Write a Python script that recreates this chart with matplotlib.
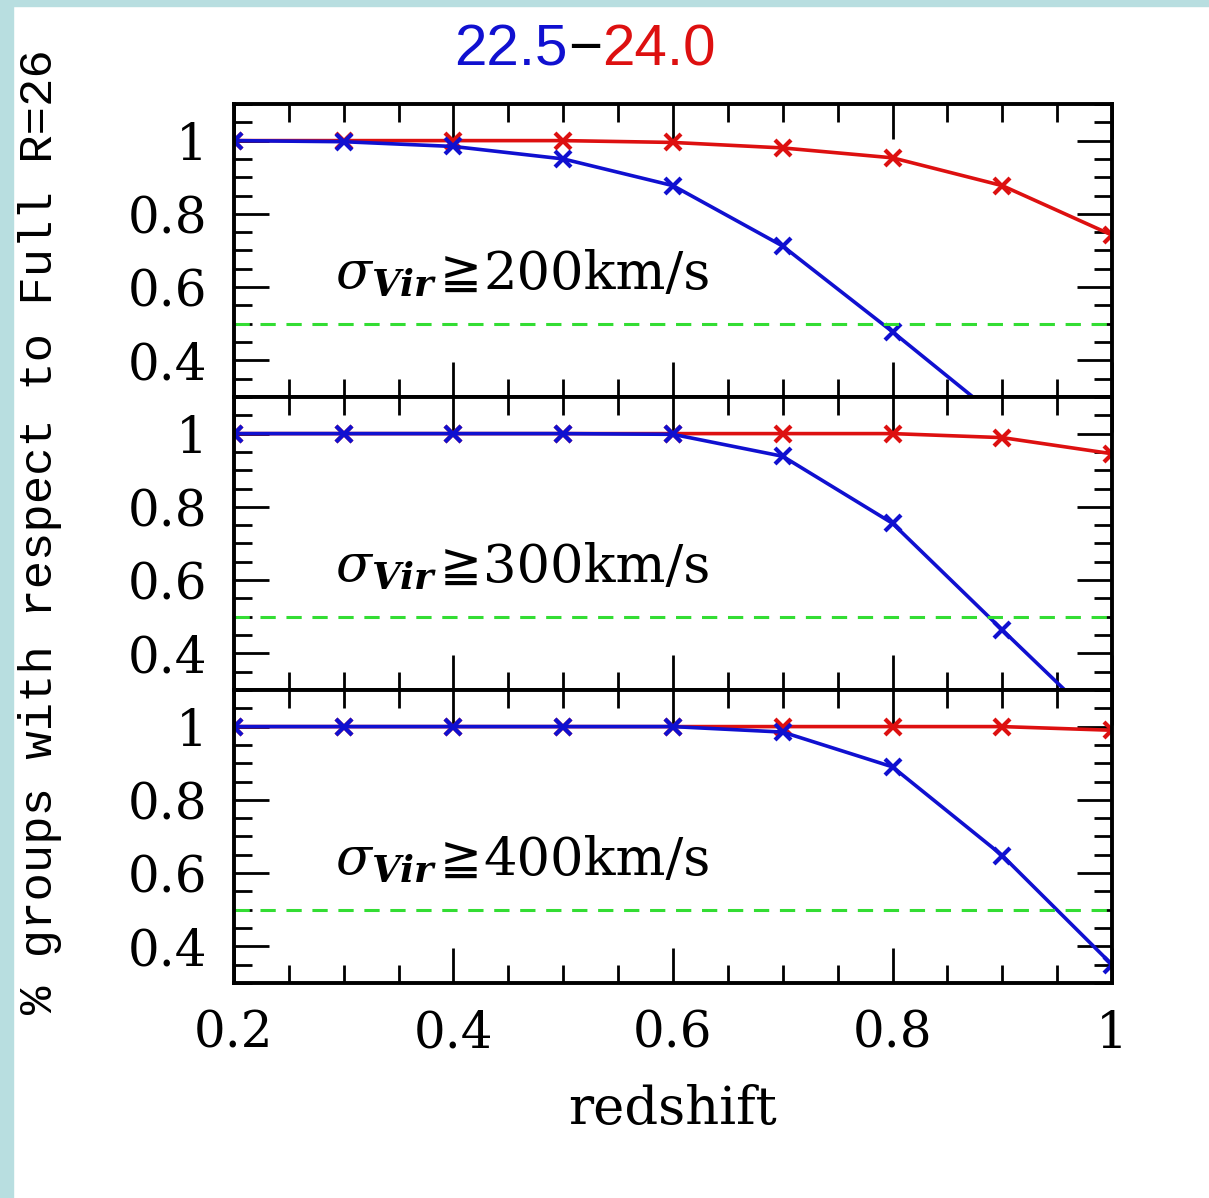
import matplotlib
matplotlib.use("Agg")
import matplotlib.pyplot as plt
from matplotlib.patches import Rectangle
from matplotlib.ticker import MultipleLocator, FormatStrFormatter

# redshift bins
redshift = [0.2, 0.3, 0.4, 0.5, 0.6, 0.7, 0.8, 0.9, 1.0]

# fraction of groups kept, red = 24.0 cut, blue = 22.5 cut
red_200 = [1.0, 1.0, 1.0, 1.0, 0.995, 0.98, 0.953, 0.877, 0.742]
blue_200 = [1.0, 0.997, 0.984, 0.95, 0.877, 0.712, 0.478, 0.235, 0.05]

red_300 = [1.0, 1.0, 1.0, 1.0, 1.0, 1.0, 1.0, 0.989, 0.945]
blue_300 = [1.0, 1.0, 1.0, 1.0, 0.998, 0.938, 0.755, 0.464, 0.176]

red_400 = [1.0, 1.0, 1.0, 1.0, 1.0, 1.0, 1.0, 1.0, 0.99]
blue_400 = [1.0, 1.0, 1.0, 1.0, 1.0, 0.985, 0.89, 0.648, 0.35]

panel_labels = ["200", "300", "400"]
red_sets = [red_200, red_300, red_400]
blue_sets = [blue_200, blue_300, blue_400]

half_line = 0.5
x_ticks = [0.2, 0.4, 0.6, 0.8, 1.0]
y_ticks = [0.4, 0.6, 0.8, 1.0]

RED = "#dd1010"
BLUE = "#1010d0"
GREEN = "#33dd33"

plt.rcParams["mathtext.fontset"] = "dejavuserif"

fig, axes = plt.subplots(3, 1, figsize=(12.09, 11.98), dpi=100, sharex=True)
fig.subplots_adjust(left=0.1935, right=0.9198, top=0.9132, bottom=0.1795, hspace=0)

# light cyan border on the left and top
fig.patches.append(Rectangle((0, 0), 13 / 1209, 1, transform=fig.transFigure,
                             color="#b8dee0", zorder=0))
fig.patches.append(Rectangle((0, 1 - 6 / 1198), 1, 6 / 1198, transform=fig.transFigure,
                             color="#b8dee0", zorder=0))

pieces = []
for ax, lab, red, blue in zip(axes, panel_labels, red_sets, blue_sets):
    ax.plot(redshift, red, color=RED, lw=2.6, marker="x", ms=11, mew=3)
    ax.plot(redshift, blue, color=BLUE, lw=2.6, marker="x", ms=11, mew=3)
    ax.axhline(half_line, color=GREEN, lw=2.2, dashes=(5, 3.5))
    ax.set_xlim(0.2, 1.0)
    ax.set_ylim(0.3, 1.1)
    ax.set_yticks(y_ticks)
    ax.yaxis.set_major_formatter(FormatStrFormatter("%g"))
    ax.yaxis.set_minor_locator(MultipleLocator(0.05))
    ax.xaxis.set_minor_locator(MultipleLocator(0.05))
    ax.tick_params(which="both", direction="in", top=True, right=True, width=2)
    ax.tick_params(which="major", length=25, labelsize=36, pad=19)
    ax.tick_params(which="minor", length=13)
    for lbl in ax.get_yticklabels():
        lbl.set_family("DejaVu Serif")
    for s in ax.spines.values():
        s.set_linewidth(2.8)
    # sigma label in three pieces so the >= sign can come from DejaVu Sans
    a = ax.text(0.292, 0.595, r"$\sigma_{\mathbfit{Vir}}$", fontsize=38,
                family="DejaVu Serif", va="baseline")
    b = ax.text(0, 0.595, "\u2267", fontsize=36, family="DejaVu Sans", va="baseline")
    c = ax.text(0, 0.595, lab + "km/s", fontsize=38, family="DejaVu Serif",
                va="baseline")
    pieces.append((ax, a, b, c))

axes[-1].set_xticks(x_ticks)
axes[-1].xaxis.set_major_formatter(FormatStrFormatter("%g"))
for lbl in axes[-1].get_xticklabels():
    lbl.set_family("DejaVu Serif")
axes[-1].set_xlabel("redshift", fontsize=38, family="DejaVu Serif", labelpad=18)

fig.text(0.033, 0.556, "% groups with respect to Full R=26", rotation=90,
         fontsize=34, family="Liberation Mono", ha="center", va="center")

# two-colour title
t1 = fig.text(0.376, 0.9457, "22.5", color=BLUE, fontsize=42,
              family="Liberation Sans", va="baseline")
t2 = fig.text(0, 0, "\u2212", color="black", fontsize=42, family="Liberation Sans",
              va="baseline")
t3 = fig.text(0, 0, "24.0", color=RED, fontsize=42, family="Liberation Sans",
              va="baseline")

fig.canvas.draw()
r = fig.canvas.get_renderer()
bb = t1.get_window_extent(r)
t2.set_position((bb.x1 / fig.bbox.width, 0.9457))
bb = t2.get_window_extent(r)
t3.set_position((bb.x1 / fig.bbox.width, 0.9457))

for ax, a, b, c in pieces:
    inv = ax.transData.inverted()
    x1 = inv.transform((a.get_window_extent(r).x1 + 2, 0))[0]
    b.set_x(x1)
    x2 = inv.transform((b.get_window_extent(r).x1 + 2, 0))[0]
    c.set_x(x2)

fig.savefig("out.png", dpi=100)
